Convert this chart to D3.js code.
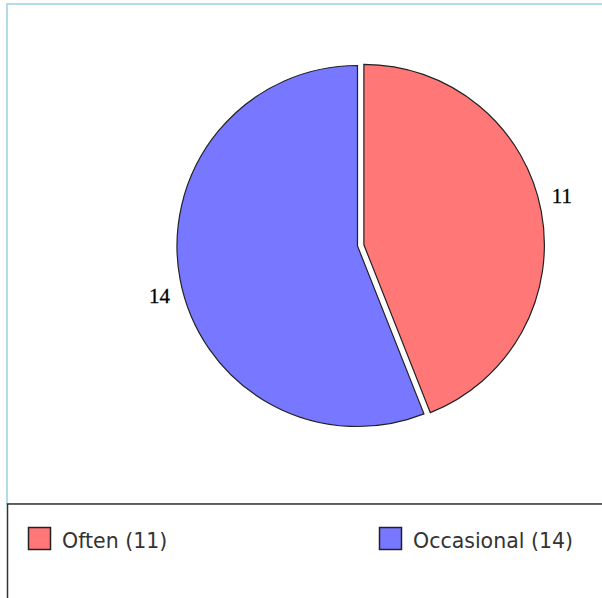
<!DOCTYPE html>
<html lang="en">
<head>
    <meta charset="utf-8">
    <title>Often vs Occasional</title>
    <script type="text/javascript" src="https://cdn.jsdelivr.net/npm/d3@7"></script>
    <style type="text/css">
        body { margin: 0; background: #fff; }
        svg { display: block; }
    </style>
</head>
<body>
    <script type="text/javascript">
        // Data
        var categories = ["Often", "Occasional"];
        var values = [11, 14];
        var colors = ["#ff7777", "#7777ff"];

        // Width and height
        var w = 602;
        var h = 598;

        // Pie geometry
        var cx = 357.5, cy = 246, r = 180.5;
        var explode = [6.5, 0];   // first slice pulled out a bit

        var svg = d3.select("body")
            .append("svg")
            .attr("width", w)
            .attr("height", h);

        // Plot frame (light blue) and legend box
        svg.append("rect")
            .attr("x", 7).attr("y", 4)
            .attr("width", w + 10).attr("height", 500)
            .style("fill", "#fff")
            .style("stroke", "#b4dbe8")
            .style("stroke-width", 2);

        svg.append("rect")
            .attr("x", 7.5).attr("y", 504)
            .attr("width", w + 10).attr("height", 120)
            .style("fill", "#fff")
            .style("stroke", "#333")
            .style("stroke-width", 1.5);

        var pie = d3.pie().sort(null).startAngle(0).endAngle(2 * Math.PI);
        var arcs = pie(values);

        var arc = d3.arc().innerRadius(0).outerRadius(r);

        var g = svg.append("g").attr("transform", "translate(" + cx + "," + cy + ")");

        g.selectAll("path")
            .data(arcs)
            .enter()
            .append("path")
            .attr("transform", function(d, i) {
                var mid = (d.startAngle + d.endAngle) / 2;
                return "translate(" + (Math.sin(mid) * explode[i]) + "," + (-Math.cos(mid) * explode[i]) + ")";
            })
            .attr("d", arc)
            .style("fill", function(d, i) { return colors[i]; })
            .style("stroke", "#222")
            .style("stroke-width", 1.2);

        // Slice labels
        g.selectAll("text")
            .data(arcs)
            .enter()
            .append("text")
            .attr("x", function(d, i) {
                var mid = (d.startAngle + d.endAngle) / 2;
                return Math.sin(mid) * (r + 21) + Math.sin(mid) * explode[i];
            })
            .attr("y", function(d) {
                var mid = (d.startAngle + d.endAngle) / 2;
                return -Math.cos(mid) * (r + 86);
            })
            .attr("text-anchor", "middle")
            .attr("dominant-baseline", "central")
            .style("font-family", "'Liberation Serif', serif")
            .style("font-size", "21px")
            .style("stroke", "#000")
            .style("stroke-width", 0.3)
            .text(function(d) { return d.value; });

        // Legend
        var legendX = [28, 379];
        var legend = svg.selectAll("g.legend")
            .data(categories)
            .enter()
            .append("g")
            .attr("class", "legend")
            .attr("transform", function(d, i) { return "translate(" + legendX[i] + ",527)"; });

        legend.append("rect")
            .attr("x", 0.5).attr("y", 0.5)
            .attr("width", 22).attr("height", 22)
            .style("fill", function(d, i) { return colors[i]; })
            .style("stroke", "#222")
            .style("stroke-width", 1.5);

        legend.append("text")
            .attr("x", 34)
            .attr("y", 21)
            .style("font-family", "'DejaVu Sans', sans-serif")
            .style("font-size", "20.5px")
            .style("fill", "#333")
            .text(function(d, i) { return d + " (" + values[i] + ")"; });
    </script>
</body>
</html>
